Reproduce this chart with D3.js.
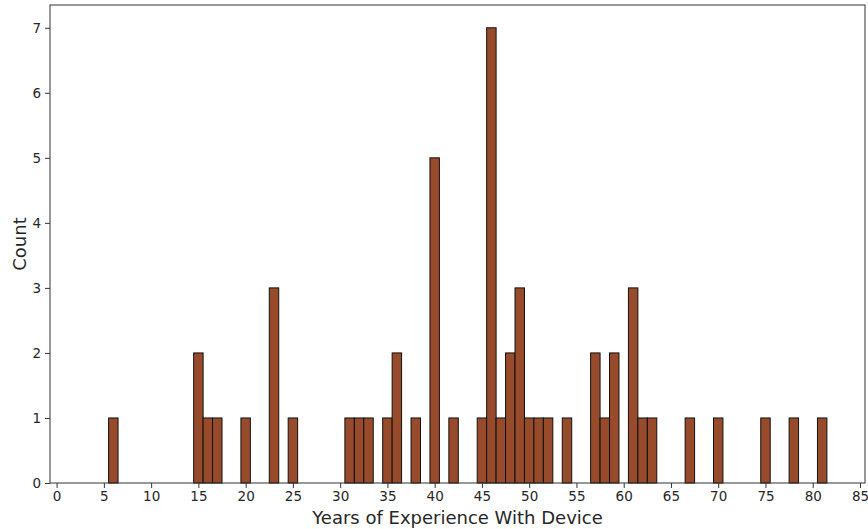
<!DOCTYPE html>
<meta charset="utf-8">
<style>
	body { margin: 0; background: #fff; }
	svg { display: block; font-family: "DejaVu Sans", sans-serif; }
	.axis line { stroke: #333; }
	.bars rect { fill: #974b2b; stroke: #111; stroke-width: 1px; }
</style>
<body>
<script src="https://cdn.jsdelivr.net/npm/d3@7"></script>
<script>

// years of experience (bin centre) and how many people fall there
var years  = [6, 15, 16, 17, 20, 23, 25, 31, 32, 33, 35, 36, 38, 40, 42, 45, 46, 47, 48, 49, 50, 51, 52, 54, 57, 58, 59, 61, 62, 63, 67, 70, 75, 78, 81];
var counts = [1, 2, 1, 1, 1, 3, 1, 1, 1, 1, 1, 2, 1, 5, 1, 1, 7, 1, 2, 3, 1, 1, 1, 1, 2, 1, 2, 3, 1, 1, 1, 1, 1, 1, 1];
var xTicks = d3.range(0, 90, 5);
var yTicks = [0, 1, 2, 3, 4, 5, 6, 7];

var width = 868, height = 529;
var margin = {top: 5, right: 3, bottom: 46, left: 50};

var svg = d3.select("body").append("svg")
		.attr("width", width)
		.attr("height", height);

var x = d3.scaleLinear()
		.domain([-0.7, 85.53])
		.range([margin.left, width - margin.right]);

var y = d3.scaleLinear()
		.domain([0, 7 * 1.05])
		.range([height - margin.bottom, margin.top]);

// bars, one unit wide, centred on the year
svg.append("g")
	.attr("class", "bars")
	.selectAll("rect")
	.data(years)
	.enter().append("rect")
	.attr("x", function(d) { return x(d - 0.5); })
	.attr("width", function(d) { return x(d + 0.5) - x(d - 0.5); })
	.attr("y", function(d, i) { return y(counts[i]); })
	.attr("height", function(d, i) { return y(0) - y(counts[i]); });

// frame
svg.append("rect")
	.attr("x", margin.left)
	.attr("y", margin.top)
	.attr("width", width - margin.left - margin.right)
	.attr("height", height - margin.top - margin.bottom)
	.attr("fill", "none")
	.attr("stroke", "#333")
	.attr("stroke-width", 1);

var xAxis = svg.append("g")
		.attr("class", "axis")
		.attr("transform", "translate(0," + (height - margin.bottom) + ")")
		.call(d3.axisBottom(x).tickValues(xTicks).tickSize(5).tickPadding(3));
xAxis.select(".domain").remove();

var yAxis = svg.append("g")
		.attr("class", "axis")
		.attr("transform", "translate(" + margin.left + ",0)")
		.call(d3.axisLeft(y).tickValues(yTicks).tickSize(5).tickPadding(4).tickFormat(d3.format("d")));
yAxis.select(".domain").remove();

// d3 puts its own font on the axis group, so override it there
svg.selectAll(".axis")
	.attr("font-family", "DejaVu Sans")
	.attr("font-size", 13.5)
	.selectAll("text").attr("fill", "#262626");

svg.append("text")
	.attr("x", (margin.left + width - margin.right) / 2)
	.attr("y", height - 5)
	.attr("text-anchor", "middle")
	.attr("font-size", "18px")
	.attr("fill", "#262626")
	.text("Years of Experience With Device");

svg.append("text")
	.attr("transform", "translate(26," + ((margin.top + height - margin.bottom) / 2) + ") rotate(-90)")
	.attr("text-anchor", "middle")
	.attr("font-size", "18px")
	.attr("fill", "#262626")
	.text("Count");

</script>
</body>
</html>
